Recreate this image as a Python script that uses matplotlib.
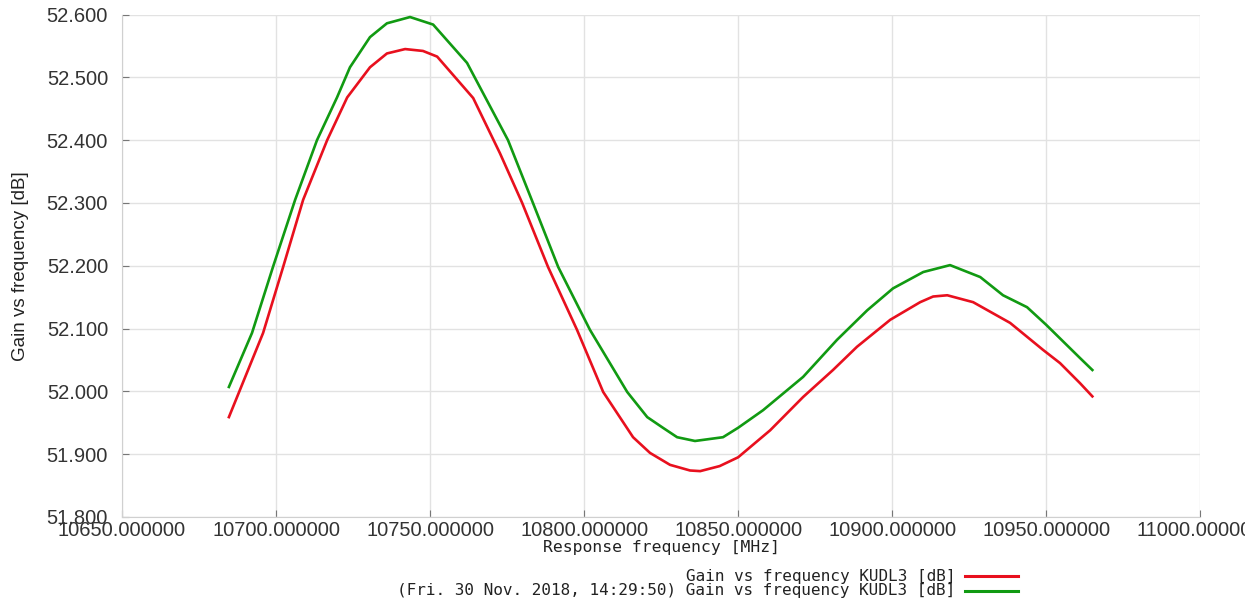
import matplotlib
matplotlib.use("Agg")
import matplotlib.pyplot as plt
from matplotlib.lines import Line2D
from matplotlib.ticker import FormatStrFormatter, MultipleLocator

# Values
freq_red = [10684.7, 10695.8, 10702.3, 10708.8, 10716.6, 10723.1, 10730.5, 10736.0,
            10741.9, 10747.7, 10752.3, 10764.0, 10772.7, 10779.9, 10788.3, 10797.7,
            10806.2, 10815.9, 10821.4, 10827.9, 10834.4, 10837.7, 10844.0, 10850.0,
            10860.4, 10871.1, 10880.8, 10888.6, 10899.4, 10909.1, 10913.3, 10917.9,
            10926.3, 10938.3, 10949.0, 10954.5, 10961.0, 10965.0]
gain_red = [51.959, 52.093, 52.198, 52.305, 52.400, 52.468, 52.516, 52.538,
            52.545, 52.542, 52.533, 52.467, 52.379, 52.300, 52.198, 52.098,
            51.999, 51.927, 51.902, 51.883, 51.874, 51.873, 51.881, 51.895,
            51.938, 51.991, 52.034, 52.071, 52.114, 52.142, 52.151, 52.153,
            52.142, 52.109, 52.066, 52.045, 52.013, 51.992]

freq_green = [10684.7, 10692.2, 10699.0, 10706.2, 10713.3, 10719.8, 10724.0, 10730.5,
              10736.0, 10743.5, 10751.0, 10762.0, 10775.3, 10783.4, 10791.6, 10801.9,
              10814.0, 10820.5, 10825.6, 10830.2, 10836.0, 10845.1, 10850.0, 10858.1,
              10871.1, 10882.1, 10891.9, 10900.3, 10910.1, 10918.8, 10928.6, 10936.0,
              10943.8, 10950.0, 10961.0, 10965.0]
gain_green = [52.007, 52.093, 52.198, 52.305, 52.400, 52.468, 52.516, 52.564,
              52.586, 52.596, 52.584, 52.523, 52.400, 52.300, 52.198, 52.098,
              51.999, 51.959, 51.942, 51.927, 51.921, 51.927, 51.942, 51.970,
              52.023, 52.082, 52.129, 52.164, 52.190, 52.201, 52.182, 52.153,
              52.134, 52.106, 52.053, 52.034]

legend_labels = ["Gain vs frequency KUDL3 [dB]",
                 "(Fri. 30 Nov. 2018, 14:29:50) Gain vs frequency KUDL3 [dB]"]
red = "#e8101e"
green = "#119a12"

fig = plt.figure(figsize=(12.45, 6.05), dpi=100)
ax = fig.add_axes([0.098, 0.1455, 0.866, 0.8305])

ax.plot(freq_red, gain_red, color=red, lw=1.9)
ax.plot(freq_green, gain_green, color=green, lw=1.9)

ax.set_xlim(10650, 11000)
ax.set_ylim(51.8, 52.6)
ax.xaxis.set_major_locator(MultipleLocator(50))
ax.yaxis.set_major_locator(MultipleLocator(0.1))
ax.xaxis.set_major_formatter(FormatStrFormatter("%.6f"))
ax.yaxis.set_major_formatter(FormatStrFormatter("%.3f"))

ax.grid(True, color="#e2e2e2", lw=1.0)
ax.set_axisbelow(True)
for s in ["top", "right"]:
    ax.spines[s].set_visible(False)
for s in ["left", "bottom"]:
    ax.spines[s].set_color("#d0d0d0")
ax.tick_params(direction="in", length=5, color="#777777", labelcolor="#333333")
ax.tick_params(axis="y", pad=10)
ax.tick_params(axis="x", pad=3)
for lab in ax.get_xticklabels() + ax.get_yticklabels():
    lab.set_family("Liberation Sans")
    lab.set_fontsize(14.5)

ax.set_xlabel("Response frequency [MHz]", family="DejaVu Sans Mono", fontsize=11.8,
              color="#222222", labelpad=0)
ax.set_ylabel("Gain vs frequency [dB]", family="Liberation Sans", fontsize=13.5,
              color="#222222", labelpad=13)

# legend drawn by hand, right aligned text with line sample
for i, (lab, col) in enumerate(zip(legend_labels, [red, green])):
    yy = 1 - (576 + 15 * i) / 605
    fig.text(955 / 1245, yy, lab, ha="right", va="center", family="DejaVu Sans Mono",
             fontsize=11.5, color="#222222")
    fig.add_artist(Line2D([965 / 1245, 1018 / 1245], [yy, yy], color=col, lw=2.2))

fig.savefig("out.png", dpi=100)
